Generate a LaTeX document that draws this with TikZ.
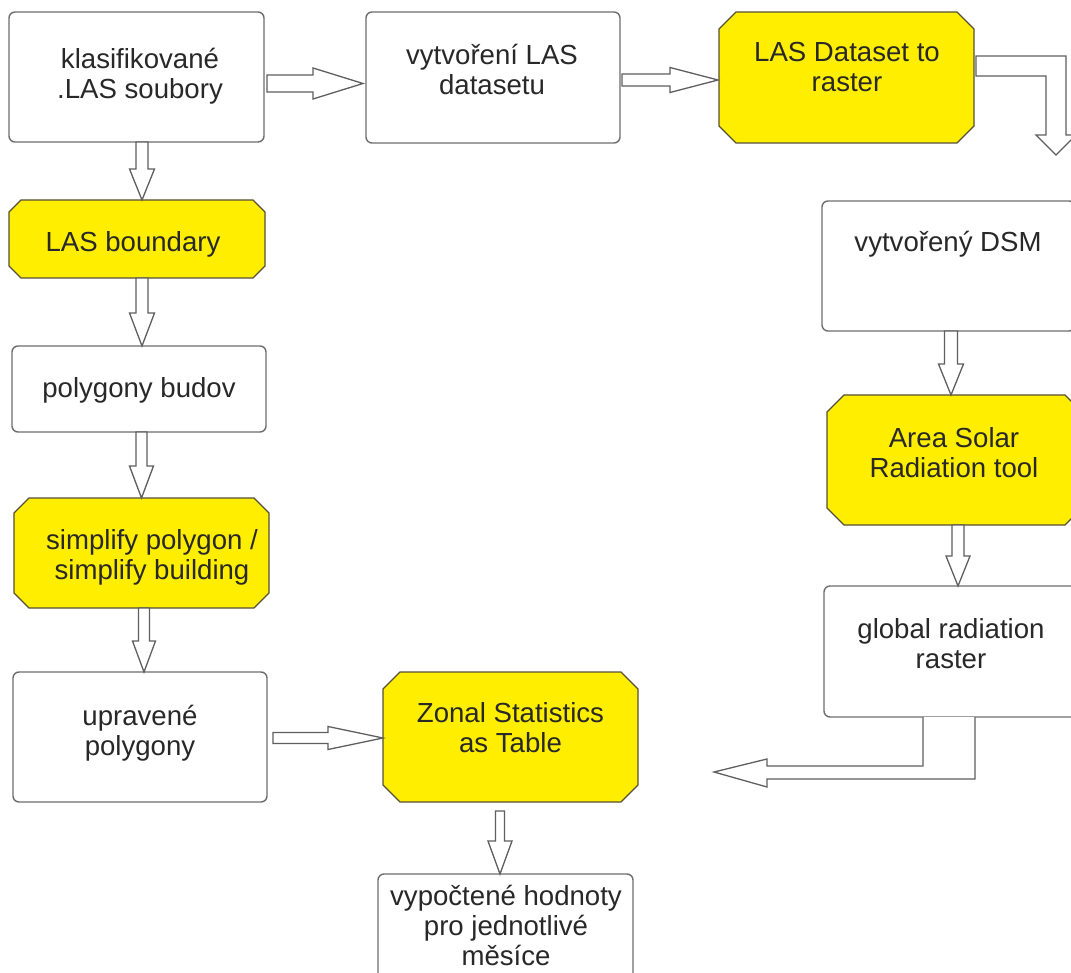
\documentclass[tikz,border=0pt]{standalone}
\usepackage{fontspec}
\setmainfont{Liberation Sans}
\usetikzlibrary{calc}
\definecolor{tooly}{RGB}{255,238,0}
\definecolor{toolline}{RGB}{85,80,55}
\definecolor{boxline}{RGB}{110,110,110}
\definecolor{arrline}{RGB}{95,95,95}
\definecolor{txtgray}{RGB}{40,40,40}
\tikzset{
  box/.style n args={2}{rectangle, draw=boxline, line width=1.4pt, rounded corners=6pt,
    fill=white, minimum width=#1pt, minimum height=#2pt, inner sep=0pt, outer sep=0pt},
  tool/.style n args={2}{rectangle, minimum width=#1pt, minimum height=#2pt,
    inner sep=0pt, outer sep=0pt},
  toolshape/.style={draw=toolline, fill=tooly, line width=1.3pt, line join=miter},
  blk/.style={draw=arrline, fill=white, line width=1.3pt, line join=miter},
  txt/.style={font=\fontsize{27.6}{30}\selectfont, align=center, text=txtgray, inner sep=0pt}
}
% octagon around a tool node: #1 node name, #2 chamfer
\newcommand{\octa}[2]{%
  \draw[toolshape] ([xshift=#2pt]#1.north west) -- ([xshift=-#2pt]#1.north east)
    -- ([yshift=-#2pt]#1.north east) -- ([yshift=#2pt]#1.south east)
    -- ([xshift=-#2pt]#1.south east) -- ([xshift=#2pt]#1.south west)
    -- ([yshift=#2pt]#1.south west) -- ([yshift=-#2pt]#1.north west) -- cycle;}
% downward block arrow: #1 start, #2 tip, #3 shaft half, #4 head half, #5 head length
\newcommand{\varr}[5]{%
  \draw[blk] let \p1=(#1), \p2=(#2) in
    (\x2-#3pt,\y1) -- (\x2+#3pt,\y1) -- (\x2+#3pt,\y2+#5pt) -- (\x2+#4pt,\y2+#5pt)
    -- (\x2,\y2) -- (\x2-#4pt,\y2+#5pt) -- (\x2-#3pt,\y2+#5pt) -- cycle;}
% rightward block arrow
\newcommand{\harr}[5]{%
  \draw[blk] let \p1=(#1), \p2=(#2) in
    (\x1,\y2+#3pt) -- (\x2-#5pt,\y2+#3pt) -- (\x2-#5pt,\y2+#4pt) -- (\x2,\y2)
    -- (\x2-#5pt,\y2-#4pt) -- (\x2-#5pt,\y2-#3pt) -- (\x1,\y2-#3pt) -- cycle;}
\begin{document}
\begin{tikzpicture}[x=1pt,y=-1pt]
\useasboundingbox (0,0) rectangle (1071,973);
\fill[white] (0,0) rectangle (1071,973);
\clip (0,0) rectangle (1071,973);

% boxes
\node[box={255}{130}] (b1) at (136.5,77) {};
\node[box={254}{131}] (b2) at (493,77.5) {};
\node[tool={255}{131}] (b3) at (846.5,77.5) {};
\node[box={253}{130}] (b4) at (948.5,266) {};
\node[tool={255}{130}] (b5) at (954.5,460) {};
\node[box={254}{131}] (b6) at (951,651.5) {};
\node[tool={255}{130}] (b7) at (510.5,737) {};
\node[box={254}{130}] (b8) at (140,737) {};
\node[tool={255}{110}] (b9) at (141.5,553) {};
\node[box={254}{86}] (b10) at (139,389) {};
\node[tool={256}{78}] (b11) at (137,239) {};
\node[box={255}{130}] (b12) at (505.5,939) {};

\octa{b3}{17}
\octa{b5}{17}
\octa{b7}{17}
\octa{b9}{15}
\octa{b11}{12}

% free ends of the bent arrows
\coordinate (ktip) at (1056,155);
\coordinate (ltip) at (714,772);

% straight block arrows
\varr{b1.south}{$(b11.north)+(5,0)$}{6}{12.5}{31}
\varr{b11.south}{$(b10.north)+(3,0)$}{6}{12.5}{33}
\varr{b10.south}{b9.north}{5.5}{12}{32}
\varr{b9.south}{$(b8.north)+(4,0)$}{5.5}{11.5}{31}
\varr{$(b7.south)+(0,9)$}{$(b12.north)+(-5.5,0)$}{4.5}{12}{33}
\varr{b4.south}{$(b5.north)+(-3.5,0)$}{6.5}{12.5}{31}
\varr{b5.south}{$(b6.north)+(7,0)$}{6}{12}{30}
\harr{$(b1.east)+(3,0)$}{$(b2.west)+(-3,6)$}{8.5}{15.5}{50}
\harr{$(b2.east)+(2,0)$}{$(b3.west)+(-1,2.5)$}{6}{12.5}{48}
\harr{$(b8.east)+(6,0)$}{$(b7.west)+(0,1)$}{5.5}{11.5}{55}

% bent arrow: LAS Dataset to raster -> DSM
\draw[blk] let \p1=(b3.east), \p2=(ktip) in
  (\x1+2pt,\y1+21.5pt) -- (\x2+10pt,\y1+21.5pt) -- (\x2+10pt,\y2+20pt)
  -- (\x2+20pt,\y2+20pt) -- (\x2,\y2) -- (\x2-20pt,\y2+20pt) -- (\x2-10pt,\y2+20pt)
  -- (\x2-10pt,\y1+1.5pt) -- (\x1+2pt,\y1+1.5pt) -- cycle;

% bent arrow: global radiation raster -> Zonal Statistics
\draw[blk] let \p1=(b6.south), \p2=(ltip) in
  (\x1-28pt,\y1) -- (\x1-28pt,\y2+6pt) -- (\x2+53pt,\y2+6pt) -- (\x2+53pt,\y2+13pt)
  -- (\x2,\y2) -- (\x2+53pt,\y2-15pt) -- (\x2+53pt,\y2-7pt) -- (\x1+24pt,\y2-7pt)
  -- (\x1+24pt,\y1);

% texts
\node[txt] (t1) at (140,76.5) {klasifikované\\.LAS soubory};
\node[txt] (t2) at (492,69) {vytvoření LAS\\datasetu};
\node[txt] (t3) at (847,67.5) {LAS Dataset to\\raster};
\node[txt] (t4) at (948,244.5) {vytvořený DSM};
\node[txt] (t5) at (954,453) {Area Solar\\Radiation tool};
\node[txt] (t6) at (951,644) {global radiation\\raster};
\node[txt] (t7) at (510.5,728) {Zonal Statistics\\as Table};
\node[txt] (t8) at (140,733) {upravené\\polygony};
\node[txt] (t9) at (152,557) {simplify polygon /\\simplify building};
\node[txt] (t10) at (139,390) {polygony budov};
\node[txt] (t11) at (133,244) {LAS boundary};
\node[txt] (t12) at (506,925) {vypočtené hodnoty\\pro jednotlivé\\měsíce};
\end{tikzpicture}
\end{document}
